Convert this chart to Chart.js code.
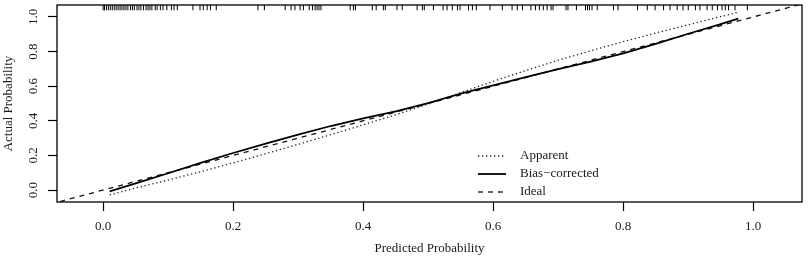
<!DOCTYPE html>
<html>
<head>
<meta charset="utf-8">
<script src="https://cdn.jsdelivr.net/npm/chart.js@4/dist/chart.umd.min.js"></script>
<style>
  html,body{margin:0;padding:0;background:#fff;}
  #wrap{width:809px;height:257px;position:relative;}
</style>
</head>
<body>
<div id="wrap"><canvas id="cal"></canvas></div>
<script>
/* ===== data ===== */
const predX      = [0.01,0.05,0.10,0.15,0.20,0.25,0.30,0.35,0.40,0.45,0.50,0.55,0.60,0.65,0.70,0.75,0.80,0.85,0.90,0.95,0.977];
const apparentY  = [-0.028,0.012,0.058,0.106,0.157,0.210,0.264,0.320,0.377,0.435,0.497,0.563,0.628,0.690,0.750,0.805,0.857,0.907,0.955,1.002,1.027];
const biasCorrY  = [-0.008,0.038,0.097,0.157,0.214,0.268,0.320,0.370,0.414,0.455,0.502,0.557,0.605,0.652,0.698,0.742,0.790,0.845,0.903,0.959,0.990];
const idealX     = [-0.2,1.2];
const rugX = [0.000,0.002,0.005,0.008,0.011,0.014,0.017,0.020,0.023,0.026,0.029,0.032,0.035,0.038,0.042,0.045,0.048,
  0.052,0.055,0.058,0.062,0.066,0.069,0.072,0.075,0.080,0.083,0.088,0.092,0.098,0.105,0.109,0.114,0.138,0.149,0.154,
  0.160,0.165,0.174,0.238,0.248,0.280,0.289,0.295,0.303,0.308,0.317,0.322,0.326,0.329,0.332,0.335,0.380,0.385,0.388,
  0.414,0.420,0.431,0.434,0.452,0.460,0.483,0.491,0.494,0.508,0.523,0.529,0.537,0.545,0.549,0.562,0.568,0.574,0.595,
  0.614,0.629,0.637,0.645,0.658,0.665,0.671,0.677,0.683,0.689,0.692,0.712,0.715,0.728,0.742,0.745,0.748,0.752,0.760,
  0.785,0.792,0.822,0.837,0.849,0.862,0.872,0.883,0.892,0.900,0.911,0.918,0.929,0.937,0.945,0.952,0.957,0.962,0.972,0.991];
const legendLabels = ['Apparent','Bias\u2212corrected','Ideal'];
const RUG_Y = 1.054;

const FONT = {family:'"Liberation Serif","DejaVu Serif",serif', size:13};
const INK = '#1a1a1a';
const xy = (xs,ys) => xs.map((x,i)=>({x, y:ys[i]}));

/* box round the plot + R style legend */
const boxPlugin = {
  id:'rbox',
  afterDraw(c){
    const {ctx, chartArea:a} = c;
    ctx.save();
    ctx.strokeStyle = '#000'; ctx.lineWidth = 1.3;
    ctx.strokeRect(a.left, a.top, a.right-a.left, a.bottom-a.top);

    // legend
    const x0 = a.left + 421, x1 = a.left + 449, tx = a.left + 463;
    let y = a.top + 151;
    ctx.font = `${FONT.size}px ${FONT.family}`;
    ctx.textBaseline = 'middle'; ctx.fillStyle = INK;
    [0,1,2].forEach(i=>{
      const ds = c.data.datasets[i];
      ctx.beginPath();
      ctx.setLineDash(ds.borderDash||[]);
      ctx.lineWidth = ds.borderWidth; ctx.strokeStyle = ds.borderColor;
      ctx.moveTo(x0,y); ctx.lineTo(x1,y); ctx.stroke();
      ctx.setLineDash([]);
      ctx.fillText(legendLabels[i], tx, y);
      y += 18;
    });
    ctx.restore();
  }
};

new Chart(document.getElementById('cal'),{
  type:'scatter',
  data:{datasets:[
    {label:legendLabels[0], data:xy(predX,apparentY), showLine:true, pointRadius:0,
     borderColor:'#222', borderWidth:1.3, borderDash:[1.3,2.7]},
    {label:legendLabels[1], data:xy(predX,biasCorrY), showLine:true, pointRadius:0,
     borderColor:'#000', borderWidth:1.8},
    {label:legendLabels[2], data:xy(idealX,idealX), showLine:true, pointRadius:0,
     borderColor:'#111', borderWidth:1.3, borderDash:[5,5]},
    {label:'rug', data:rugX.map(x=>({x, y:RUG_Y})), showLine:false, pointStyle:'line',
     rotation:90, pointRadius:2.7, borderColor:'#000', borderWidth:1}
  ]},
  options:{
    responsive:true, maintainAspectRatio:false, animation:false,
    layout:{padding:{left:0,right:7,top:3,bottom:0}},
    plugins:{legend:{display:false}, tooltip:{enabled:false}},
    scales:{
      x:{type:'linear', min:-0.071, max:1.075,
        afterFit:s=>{ s.height = 55; s.paddingLeft = 0; s.paddingRight = 0; },
        border:{display:false},
        grid:{drawOnChartArea:false, drawTicks:true, tickLength:9, tickColor:'#000', tickWidth:1.2},
        ticks:{stepSize:0.2, includeBounds:false, padding:8, color:INK, font:FONT, maxRotation:0,
          callback:v=>v.toFixed(1)},
        title:{display:true, text:'Predicted Probability', color:INK, font:FONT, padding:{top:0,bottom:1}}
      },
      y:{type:'linear', min:-0.069, max:1.069,
        afterFit:s=>{ s.width = 57; s.paddingTop = 0; s.paddingBottom = 0; },
        border:{display:false},
        grid:{drawOnChartArea:false, drawTicks:true, tickLength:9, tickColor:'#000', tickWidth:1.2},
        ticks:{stepSize:0.2, includeBounds:false, padding:6, color:INK, font:FONT,
          minRotation:90, maxRotation:90, crossAlign:'center', autoSkip:false,
          callback:v=>v.toFixed(1)},
        title:{display:true, text:'Actual Probability', color:INK, font:FONT, padding:{top:1,bottom:0}}
      }
    }
  },
  plugins:[boxPlugin]
});
</script>
</body>
</html>
